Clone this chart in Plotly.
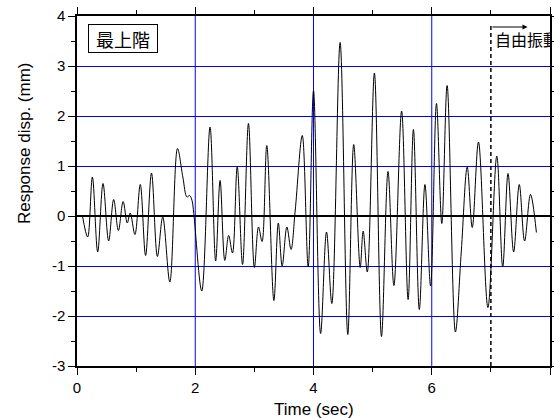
import plotly.graph_objects as go

# Extrema / shape points (time in s, displacement in mm)
time_s = [0.09, 0.18, 0.26, 0.35, 0.44, 0.535, 0.62, 0.70, 0.78, 0.85, 0.90, 0.98,
          1.07, 1.16, 1.26, 1.36, 1.45, 1.57, 1.70, 1.79, 1.86, 1.905, 1.945, 1.975,
          2.11, 2.25, 2.345, 2.42, 2.50, 2.565, 2.63, 2.71, 2.80, 2.90, 3.00, 3.07,
          3.13, 3.21, 3.33, 3.405, 3.47, 3.55, 3.62, 3.69, 3.81, 3.91, 4.00, 4.12,
          4.22, 4.31, 4.45, 4.58, 4.68, 4.79, 4.84, 4.91, 5.03, 5.15, 5.26, 5.36,
          5.49, 5.60, 5.69, 5.79, 5.885, 5.98, 6.08, 6.17, 6.26, 6.40, 6.50, 6.60,
          6.685, 6.79, 6.95, 7.10, 7.20, 7.29, 7.385, 7.48, 7.57, 7.67, 7.77]
disp_mm = [0.02, -0.42, 0.78, -0.72, 0.65, -0.50, 0.33, -0.29, 0.29, -0.14, 0.06, -0.37,
           0.63, -0.79, 0.86, -0.81, -0.02, -1.32, 1.35, 0.78, 0.38, 0.41, 0.31, 0.05,
           -1.50, 1.78, -0.90, 0.71, -0.89, -0.39, -0.74, 0.99, -0.97, 1.85, -1.03, -0.22,
           -0.51, 1.41, -1.69, -0.14, -1.00, -0.22, -0.67, 0.10, 1.61, -1.02, 2.51, -2.35,
           -0.32, -1.75, 3.47, -2.37, 1.43, -1.03, -0.30, -1.12, 2.86, -2.41, 0.89, -1.39,
           2.10, -1.67, 1.73, -1.87, 0.63, -1.40, 2.25, -0.15, 2.61, -2.32, -0.70, 0.98,
           -0.23, 1.48, -1.83, 1.20, -1.02, 0.85, -0.72, 0.63, -0.50, 0.43, -0.33]

x_ticks = [0, 2, 4, 6, 8]
x_minor_ticks = [1, 3, 5, 7]
y_ticks = [-3, -2, -1, 0, 1, 2, 3, 4]
y_tick_text = ["-3", "-2", "-1", "0", "1", "2", "3", "4"]
free_vib_start = 7.0
free_vib_arrow_end = 7.62
free_vib_label = "自由振動"
floor_label = "最上階"

FONT = "Arial, Liberation Sans, sans-serif"
CJK = "Noto Sans CJK TC, Noto Sans CJK JP, sans-serif"
BLUE = "rgb(0,0,255)"

fig = go.Figure()
fig.add_trace(go.Scatter(x=time_s, y=disp_mm, mode="lines",
                         line=dict(color="black", width=1, shape="spline", smoothing=1.0),
                         showlegend=False, hoverinfo="skip"))
# dashed line marking start of free vibration
fig.add_trace(go.Scatter(x=[free_vib_start, free_vib_start], y=[-3, 3.85], mode="lines",
                         line=dict(color="black", width=1.5, dash="4px,3px"),
                         showlegend=False, hoverinfo="skip"))
# label (clipped by plot area like the reference)
fig.add_trace(go.Scatter(x=[free_vib_start + 0.07], y=[3.48], mode="text", text=[free_vib_label],
                         textposition="middle right", cliponaxis=True,
                         textfont=dict(family=CJK, size=16, color="black"),
                         showlegend=False, hoverinfo="skip"))

# vertical grid lines at the interior major x ticks
for t in x_ticks[1:-1]:
    fig.add_shape(type="line", x0=t, x1=t, y0=0, y1=1, xref="x", yref="paper",
                  line=dict(color=BLUE, width=1), layer="below")

fig.add_annotation(x=free_vib_arrow_end, y=3.78, ax=free_vib_start, ay=3.78,
                   xref="x", yref="y", axref="x", ayref="y", text="",
                   showarrow=True, arrowhead=2, arrowsize=1, arrowwidth=1, arrowcolor="black")
fig.add_annotation(x=0.77, y=3.56, xref="x", yref="y", text=floor_label, showarrow=False,
                   font=dict(family=CJK, size=18, color="black"),
                   bordercolor="black", borderwidth=1, borderpad=1, bgcolor="white",
                   width=66, height=25, xanchor="center", yanchor="middle")
fig.add_annotation(x=0.5, y=-0.124, xref="paper", yref="paper", text="Time (sec)",
                   showarrow=False, font=dict(family=FONT, size=17, color="black"),
                   xanchor="center", yanchor="middle")
fig.add_annotation(x=-0.112, y=0.637, xref="paper", yref="paper", text="Response disp. (mm)",
                   showarrow=False, textangle=-90, font=dict(family=FONT, size=17, color="black"),
                   xanchor="center", yanchor="middle")

axis_common = dict(showline=True, linecolor="black", linewidth=1.5, mirror="allticks",
                   ticks="outside", ticklen=7, tickwidth=1.2, tickcolor="black",
                   gridwidth=1, automargin=False,
                   tickfont=dict(family=FONT, size=15, color="black"))
fig.update_xaxes(range=[0, 8], tickvals=x_ticks, zeroline=False, showgrid=False,
                 minor=dict(tickvals=x_minor_ticks, ticks="outside", ticklen=4,
                            tickcolor="black", showgrid=False),
                 **axis_common)
fig.update_yaxes(range=[-3, 4], tickvals=y_ticks, ticktext=y_tick_text, zeroline=True,
                 zerolinecolor="black", zerolinewidth=2, showgrid=True, gridcolor=BLUE,
                 minor=dict(dtick=0.5, ticks="outside", ticklen=4, tickcolor="black",
                            showgrid=False),
                 **axis_common)
fig.update_layout(width=554, height=418, margin=dict(l=77, r=4, t=16, b=52),
                  plot_bgcolor="white", paper_bgcolor="white")
fig.write_html("out.html", config={"displayModeBar": False},
               post_script="document.body.style.margin='0';document.body.style.padding='0';")
